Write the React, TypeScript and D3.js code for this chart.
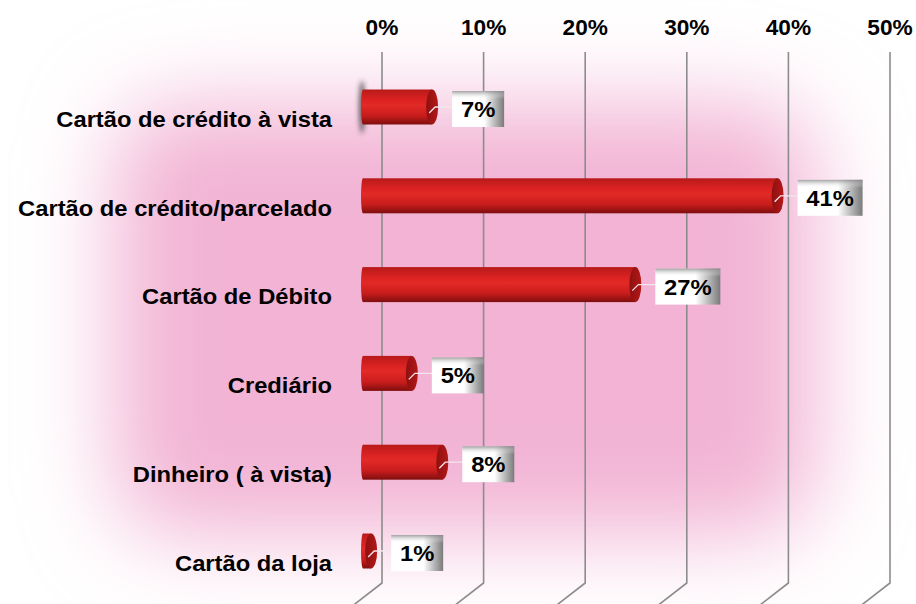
import React, { useEffect, useRef } from 'react';
import * as d3 from 'd3';

const categories = [
  'Cartão de crédito à vista',
  'Cartão de crédito/parcelado',
  'Cartão de Débito',
  'Crediário',
  'Dinheiro ( à vista)',
  'Cartão da loja',
];
const values = [7, 41, 27, 5, 8, 1];
const ticks = [0, 10, 20, 30, 40, 50];

const W = 916;
const H = 604;
const FONT = 'Liberation Sans, Arial, sans-serif';
const STRETCH = 1.08; // the original text is a little wide

const App: React.FC = () => {
  const svgRef = useRef<SVGSVGElement>(null);

  useEffect(() => {
    if (!svgRef.current) return;
    const svg = d3.select(svgRef.current);
    svg.selectAll('*').remove();

    const x = d3.scaleLinear().domain([0, 50]).range([382, 890]);
    const y = d3.scaleBand<string>().domain(categories).range([62.6, 595.4]);
    const depthX = 21; // 3D offset of the bars vs gridlines
    const barH = 35;
    const capRx = 6;

    const defs = svg.append('defs');

    // soft pink backdrop
    const blur = defs.append('filter').attr('id', 'bg-blur')
      .attr('x', '-30%').attr('y', '-30%').attr('width', '160%').attr('height', '160%');
    blur.append('feGaussianBlur').attr('stdDeviation', 45);

    const bodyGrad = defs.append('linearGradient').attr('id', 'bar-body')
      .attr('x1', 0).attr('y1', 0).attr('x2', 0).attr('y2', 1);
    bodyGrad.append('stop').attr('offset', '0%').attr('stop-color', '#b81a1a');
    bodyGrad.append('stop').attr('offset', '30%').attr('stop-color', '#dc2222');
    bodyGrad.append('stop').attr('offset', '45%').attr('stop-color', '#e22a26');
    bodyGrad.append('stop').attr('offset', '75%').attr('stop-color', '#c81c1c');
    bodyGrad.append('stop').attr('offset', '100%').attr('stop-color', '#7e0e0e');

    const capGrad = defs.append('linearGradient').attr('id', 'bar-cap')
      .attr('x1', 0).attr('y1', 0).attr('x2', 1).attr('y2', 0);
    capGrad.append('stop').attr('offset', '0%').attr('stop-color', '#8e1010');
    capGrad.append('stop').attr('offset', '100%').attr('stop-color', '#b31818');

    const boxGrad = defs.append('linearGradient').attr('id', 'box-fill')
      .attr('x1', 0).attr('y1', 0).attr('x2', 1).attr('y2', 0);
    boxGrad.append('stop').attr('offset', '0%').attr('stop-color', '#ffffff');
    boxGrad.append('stop').attr('offset', '62%').attr('stop-color', '#ffffff');
    boxGrad.append('stop').attr('offset', '100%').attr('stop-color', '#7a7a7a');

    const boxTop = defs.append('linearGradient').attr('id', 'box-top')
      .attr('x1', 0).attr('y1', 0).attr('x2', 0).attr('y2', 1);
    boxTop.append('stop').attr('offset', '0%').attr('stop-color', '#8a8a8a').attr('stop-opacity', 0.8);
    boxTop.append('stop').attr('offset', '100%').attr('stop-color', '#ffffff').attr('stop-opacity', 0);

    const shadowBlur = defs.append('filter').attr('id', 'edge-blur')
      .attr('x', '-200%').attr('y', '-50%').attr('width', '500%').attr('height', '200%');
    shadowBlur.append('feGaussianBlur').attr('stdDeviation', 2.5);

    svg.append('rect').attr('width', W).attr('height', H).attr('fill', '#ffffff');
    svg.append('rect')
      .attr('x', 115).attr('y', 105).attr('width', 700).attr('height', 430)
      .attr('rx', 60)
      .attr('fill', '#f2b3d4')
      .attr('filter', 'url(#bg-blur)');

    // gridlines with slanted floor ends
    const gridTop = 52;
    const gridBottom = 583;
    svg.append('g').selectAll('path').data(ticks).join('path')
      .attr('d', t => `M${x(t)},${gridTop}V${gridBottom}L${x(t) - 40},${gridBottom + 31}`)
      .attr('fill', 'none')
      .attr('stroke', '#8c8c8c')
      .attr('stroke-width', 1.6);

    // tick labels
    svg.append('g').selectAll('text').data(ticks).join('text')
      .attr('transform', t => `translate(${x(t)},35) scale(1.03,1)`)
      .attr('text-anchor', 'middle')
      .attr('font-family', FONT)
      .attr('font-weight', 'bold')
      .attr('font-size', 22)
      .attr('fill', '#000')
      .text(t => `${t}%`);

    // category labels
    svg.append('g').selectAll('text').data(categories).join('text')
      .attr('transform', c => `translate(332,${(y(c) ?? 0) + y.bandwidth() / 2 + 12}) scale(${STRETCH},1)`)
      .attr('dy', '0.35em')
      .attr('text-anchor', 'end')
      .attr('font-family', FONT)
      .attr('font-weight', 'bold')
      .attr('font-size', 22)
      .attr('fill', '#000')
      .text(c => c);

    // faint shadow at left of first bar
    const c0 = (y(categories[0]) ?? 0) + y.bandwidth() / 2;
    svg.append('ellipse')
      .attr('cx', x(0) - depthX + 1).attr('cy', c0)
      .attr('rx', 3).attr('ry', barH / 2 + 9)
      .attr('fill', '#333').attr('opacity', 0.75)
      .attr('filter', 'url(#edge-blur)');

    const bars = svg.append('g').selectAll('g').data(categories).join('g')
      .attr('transform', c => `translate(0,${(y(c) ?? 0) + y.bandwidth() / 2})`);

    bars.each(function (c, i) {
      const g = d3.select(this);
      const v = values[i];
      const x0 = x(0) - depthX;
      const x1 = x(v) - depthX;
      g.append('ellipse')
        .attr('cx', x0 + 2).attr('cy', 0).attr('rx', 2).attr('ry', barH / 2)
        .attr('fill', 'url(#bar-body)');
      g.append('rect')
        .attr('x', x0 + 2).attr('y', -barH / 2).attr('width', x1 - x0 - 2).attr('height', barH)
        .attr('fill', 'url(#bar-body)');
      g.append('ellipse')
        .attr('cx', x1).attr('cy', 0).attr('rx', capRx).attr('ry', barH / 2)
        .attr('fill', 'url(#bar-cap)');

      // value box
      const label = `${v}%`;
      const boxW = label.length > 2 ? 65 : 52;
      const boxHh = 36;
      const bx = x1 + capRx + 14;
      const by = 2 - boxHh / 2;
      g.append('polyline')
        .attr('points', `${x1 - 3},${6} ${x1 + 3},${0} ${bx},${0}`)
        .attr('fill', 'none')
        .attr('stroke', '#f2e6ec')
        .attr('stroke-width', 1.3);
      g.append('rect')
        .attr('x', bx).attr('y', by).attr('width', boxW).attr('height', boxHh)
        .attr('fill', 'url(#box-fill)');
      g.append('rect')
        .attr('x', bx).attr('y', by).attr('width', boxW).attr('height', 8)
        .attr('fill', 'url(#box-top)');
      g.append('text')
        .attr('transform', `translate(${bx + boxW / 2},${by + boxHh / 2}) scale(${STRETCH},1)`)
        .attr('dy', '0.36em')
        .attr('text-anchor', 'middle')
        .attr('font-family', FONT)
        .attr('font-weight', 'bold')
        .attr('font-size', 22)
        .attr('fill', '#000')
        .text(label);
    });
  }, []);

  return (
    <svg
      ref={svgRef}
      width={W}
      height={H}
      style={{ position: 'absolute', left: 0, top: 0, display: 'block' }}
    />
  );
};

export default App;
